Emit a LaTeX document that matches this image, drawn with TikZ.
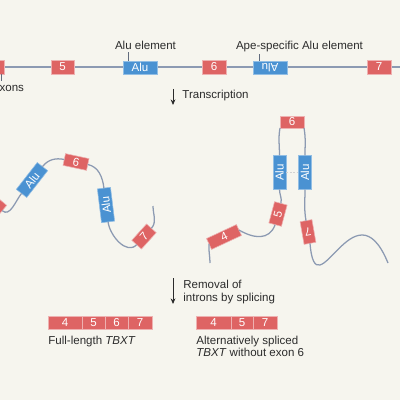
\documentclass[tikz,border=0pt]{standalone}
\usepackage{fontspec}
\setmainfont{Liberation Sans}
\usepackage{graphicx}
\usetikzlibrary{arrows.meta, positioning}

\definecolor{bgcream}{HTML}{F6F5EE}
\definecolor{exonred}{HTML}{DE6464}
\definecolor{alublue}{HTML}{4A92D2}
\definecolor{strandgrey}{HTML}{8C9AB2}
\definecolor{inkgrey}{HTML}{2B2B2B}

\begin{document}
\begin{tikzpicture}[
    x=0.025cm, y=0.025cm,
    every node/.style={font=\fontsize{8.2}{9}\selectfont, text=inkgrey},
    exon/.style={fill=exonred, draw=exonred!50!white, line width=0.4pt, outer sep=0pt, minimum width=0.6cm, minimum height=0.35cm, inner sep=0pt, text=white},
    alu/.style={fill=alublue, draw=alublue!60!white, line width=0.4pt, outer sep=0pt, minimum width=0.85cm, minimum height=0.33cm, inner sep=0pt, text=white},
    bar/.style={exon, minimum height=0.325cm},
    strand/.style={draw=strandgrey, line width=0.9pt},
    leader/.style={draw=strandgrey!70!black, line width=0.4pt},
    pair/.style={draw=gray!35, line width=0.6pt, dash pattern=on 1.5pt off 1pt},
    note/.style={inner sep=1.5pt},
    flow/.style={draw=inkgrey, line width=0.6pt, -{Stealth[length=4pt, width=3.4pt]}}
]

    % Frame of the crop
    \useasboundingbox (0,0) rectangle (400,-400);
    \fill[bgcream] (0,0) rectangle (400,-400);
    \clip (0,0) rectangle (400,-400);

    % Genomic DNA
    \coordinate (gL) at (0,-67);
    \coordinate (gR) at (400,-67);
    \draw[strand, line width=0.8pt] (gL) -- (gR);
    \node[exon] (g4) at (-8,-67) {};
    \node[exon, minimum width=0.575cm] (g5) at (62.5,-67) {5};
    \node[alu] (gAlu) at (140,-67.5) {Alu};
    \node[exon] (g6) at (214,-67) {6};
    \node[alu] (gApe) at (270,-67.5) {\rotatebox{180}{Alu}};
    \node[exon] (g7) at (379,-67) {7};

    % Labels and leaders
    \node[note, anchor=base] (aluLab) at (145.5,-49.5) {Alu element};
    \node[note, anchor=base] (apeLab) at (299.5,-49.5) {Ape-specific Alu element};
    \node[note, anchor=base west] (exLab) at (-10.5,-91.5) {Exons};
    \draw[leader] ([xshift=-0.3cm]gAlu.north) -- ([xshift=-0.3cm]gAlu.north |- aluLab.south);
    \draw[leader] ([xshift=-0.275cm]gApe.north) -- ([xshift=-0.275cm]gApe.north |- apeLab.south);
    \draw[leader] ([xshift=0.225cm]g4.south) -- ([xshift=0.225cm]g4.south |- exLab.north);

    % Transcription step
    \coordinate (trTop) at (173,-89);
    \coordinate (trBot) at (173,-105);
    \draw[flow] (trTop) -- (trBot);
    \node[note, anchor=base west] (trLab) at (180,-98.5) {Transcription};

    % RNA with intact exon 6 (left)
    \node[exon, rotate=-40] (m5) at (-7,-203) {};
    \node[alu, rotate=52] (mAlu1) at (32,-180) {Alu};
    \node[exon, rotate=-12, minimum height=0.3cm] (m6) at (76,-162) {6};
    \node[alu, rotate=97] (mAlu2) at (106,-205) {Alu};
    \node[exon, rotate=48, minimum width=0.55cm, minimum height=0.325cm] (m7) at (144,-236.5) {7};
    \coordinate (mEnd) at (153,-206);
    \draw[strand] (m5.east) to[out=-40, in=232] (mAlu1.west);
    \draw[strand] (mAlu1.east) to[out=52, in=168] (m6.west);
    \draw[strand] (m6.east) to[out=-12, in=97] (mAlu2.east);
    \draw[strand] (mAlu2.west) to[out=-83, in=228] (m7.west);
    \draw[strand] (m7.east) to[out=48, in=-90] (mEnd);

    % RNA with paired Alu elements looping out exon 6 (right)
    \node[exon, minimum height=0.3cm] (r6) at (292,-122) {6};
    \node[alu, rotate=90] (rAluL) at (279.5,-172.5) {Alu};
    \node[alu, rotate=90] (rAluR) at (305,-172.5) {Alu};
    \node[exon, rotate=75, minimum width=0.55cm, minimum height=0.325cm] (r5) at (278,-214) {5};
    \node[exon, rotate=25, minimum width=0.825cm, minimum height=0.3cm] (r4) at (224,-237) {4};
    \node[exon, rotate=100, minimum width=0.575cm, minimum height=0.3cm] (r7) at (308,-232) {\rotatebox{90}{7}};
    \coordinate (rStart) at (210,-263);
    \coordinate (rEnd) at (388,-263);
    \draw[pair] (rAluL.south) -- (rAluR.north);
    \draw[strand] (rStart) to[out=90, in=265] (r4.west);
    \draw[strand] (r4.east) to[out=-30, in=250, looseness=1.2] (r5.west);
    \draw[strand] (r5.east) to[out=75, in=-90] (rAluL.west);
    \draw[strand] (rAluL.east) to[out=90, in=-100] (r6.south west);
    \draw[strand] (r6.south east) to[out=-80, in=90] (rAluR.east);
    \draw[strand] (rAluR.west) to[out=-90, in=100] (r7.east);
    \draw[strand] (r7.west) .. controls (316,-315) and (354,-180) .. (rEnd);

    % Splicing step
    \coordinate (spTop) at (173,-278);
    \coordinate (spBot) at (173,-304);
    \draw[flow] (spTop) -- (spBot);
    \node[note, anchor=west, align=left] (spLab) at (181,-292) {Removal of\\introns by splicing};

    % Mature transcripts
    \node[bar, minimum width=0.85cm] (f4) at (65,-322.5) {4};
    \node[bar, minimum width=0.575cm, right=0pt of f4] (f5) {5};
    \node[bar, minimum width=0.575cm, right=0pt of f5] (f6) {6};
    \node[bar, minimum width=0.6cm, right=0pt of f6] (f7) {7};
    \node[note, anchor=base west] (fLab) at (46,-344.5) {Full-length \textit{TBXT}};

    \node[bar, minimum width=0.875cm] (a4) at (213.5,-322.5) {4};
    \node[bar, minimum width=0.55cm, right=0pt of a4] (a5) {5};
    \node[bar, minimum width=0.6cm, right=0pt of a5] (a7) {7};
    \node[note, anchor=west, align=left] (aLab) at (194,-346.4) {Alternatively spliced\\\textit{TBXT} without exon 6};

\end{tikzpicture}
\end{document}
